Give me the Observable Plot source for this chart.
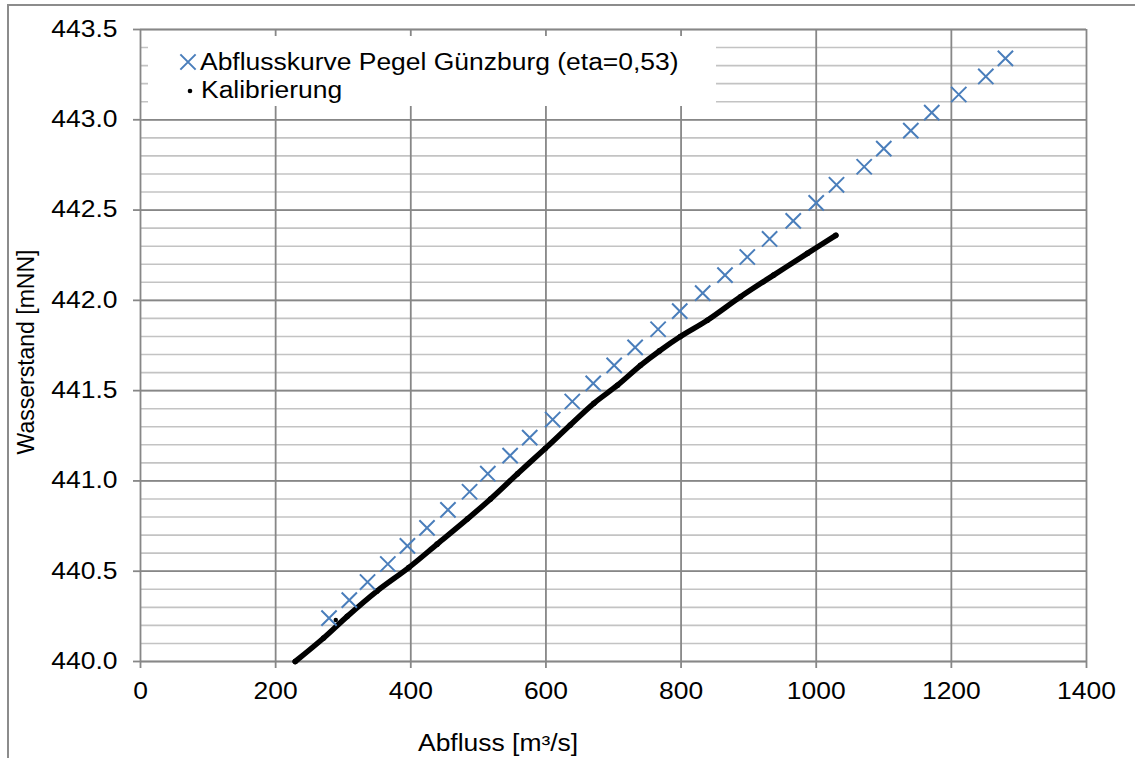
<!DOCTYPE html>
<html>
<head>
<meta charset="utf-8">
<script src="https://cdn.jsdelivr.net/npm/d3@7"></script>
<script src="https://cdn.jsdelivr.net/npm/@observablehq/plot@0.6"></script>
<style>
  html, body { margin: 0; padding: 0; background: #fff; overflow: hidden; }
  #wrap { position: relative; width: 1135px; height: 758px; }
  #border { position: absolute; left: 7px; top: 4px; width: 1400px; height: 1000px;
            border: 2px solid #8c8c8c; pointer-events: none; box-sizing: border-box; }
  svg text { font-family: "Liberation Sans", Arial, sans-serif; }
</style>
</head>
<body>
<div id="wrap"><div id="border"></div></div>
<script>
// Axis ticks
const xTicks = [0, 200, 400, 600, 800, 1000, 1200, 1400];
const yTicks = [440.0, 440.5, 441.0, 441.5, 442.0, 442.5, 443.0, 443.5];

// Abflusskurve Pegel Günzburg (eta=0,53) — blue crosses
const kurveQ = [279, 309, 336, 366, 395, 424, 455, 487, 514, 547, 576, 610, 639, 670, 701, 732,
                766, 798, 832, 865, 898, 931, 966, 1000, 1030, 1071, 1100, 1140, 1171, 1211, 1251, 1280];
const kurveH = [440.24, 440.34, 440.44, 440.54, 440.64, 440.74, 440.84, 440.94, 441.04, 441.14, 441.24,
                441.34, 441.44, 441.54, 441.64, 441.74, 441.84, 441.94, 442.04, 442.14, 442.24, 442.34,
                442.44, 442.54, 442.64, 442.74, 442.84, 442.94, 443.04, 443.14, 443.24, 443.34];

// Kalibrierung — dense black points
const kalQ = [229, 271, 306, 350, 397, 439, 484, 518, 558, 599, 636, 671, 706, 740, 768,
              799, 839, 888, 937, 987, 1029];
const kalH = [440.00, 440.13, 440.25, 440.39, 440.52, 440.65, 440.79, 440.90, 441.04, 441.18, 441.31,
              441.43, 441.53, 441.64, 441.72, 441.80, 441.89, 442.02, 442.14, 442.26, 442.36];
// isolated Kalibrierung point
const kalExtraQ = [289];
const kalExtraH = [440.23];

const kurve = kurveQ.map((q, i) => ({q, h: kurveH[i]}));
const kal = kalQ.map((q, i) => ({q, h: kalH[i]}));
const kalExtra = kalExtraQ.map((q, i) => ({q, h: kalExtraH[i]}));
const minorY = d3.range(0, 36).map(i => 440 + i * 0.1);

const blue = "#4a7ebb";
const gridMajor = "#878787";
const gridMinor = "#c3c3c3";

const chart = Plot.plot({
  width: 1135,
  height: 758,
  marginLeft: 140,
  marginRight: 49,
  marginTop: 29,
  marginBottom: 97,
  style: {fontFamily: "Liberation Sans, Arial, sans-serif", fontSize: "23px", background: "transparent", color: "#000"},
  x: {domain: [0, 1400], label: null},
  y: {domain: [440, 443.5], label: null},
  marks: [
    Plot.ruleY(minorY, {stroke: gridMinor, strokeWidth: 1.6}),
    Plot.ruleY(yTicks, {stroke: gridMajor, strokeWidth: 1.8}),
    Plot.ruleX(xTicks, {stroke: gridMajor, strokeWidth: 1.8}),
    Plot.axisX({ticks: xTicks, tickFormat: d => String(d), tickSize: 7, tickPadding: 14,
                stroke: gridMajor, strokeWidth: 1.8, fill: "#000", label: null}),
    Plot.axisY({ticks: yTicks, tickFormat: d => d.toFixed(1), tickSize: 7, tickPadding: 16,
                stroke: gridMajor, strokeWidth: 1.8, fill: "#000", label: null}),
    Plot.line(kal, {x: "q", y: "h", stroke: "#000", strokeWidth: 5.5, strokeLinecap: "round", strokeLinejoin: "round", curve: "catmull-rom"}),
    Plot.dot(kal, {x: "q", y: "h", r: 2.8, fill: "#000"}),
    Plot.dot(kalExtra, {x: "q", y: "h", r: 2.2, fill: "#000"}),
    Plot.dot(kurve, {x: "q", y: "h", symbol: "times", r: 7, stroke: blue, strokeWidth: 2})
  ]
});

document.getElementById("wrap").insertBefore(chart, document.getElementById("border"));
chart.style.position = "absolute";
chart.style.left = "0px";
chart.style.top = "0px";

const svg = d3.select(chart);

// Legend box
const lg = svg.append("g").attr("text-anchor", "start");
lg.append("rect").attr("x", 148).attr("y", 36).attr("width", 568).attr("height", 70).attr("fill", "#fff");
lg.append("path")
  .attr("d", d3.symbol(d3.symbolTimes, 154)())
  .attr("transform", "translate(188,62)")
  .attr("fill", "none").attr("stroke", blue).attr("stroke-width", 2);
lg.append("text").attr("x", 200).attr("y", 70).attr("text-anchor", "start")
  .attr("font-size", 23).attr("fill", "#000")
  .text("Abflusskurve Pegel Günzburg (eta=0,53)");
lg.append("circle").attr("cx", 190).attr("cy", 91).attr("r", 2.3).attr("fill", "#000");
lg.append("text").attr("x", 201).attr("y", 98).attr("text-anchor", "start")
  .attr("font-size", 23).attr("fill", "#000")
  .text("Kalibrierung");

// Axis titles
svg.append("text").attr("x", 418).attr("y", 751).attr("text-anchor", "start")
  .attr("font-size", 23).attr("fill", "#000")
  .text("Abfluss [m³/s]");
svg.append("text").attr("class", "nostretch")
  .attr("transform", "translate(34,352) rotate(-90)")
  .attr("text-anchor", "middle").attr("font-size", 23).attr("fill", "#000")
  .text("Wasserstand [mNN]");

// Widen horizontal text to match the reference's proportions
chart.querySelectorAll("text").forEach(t => {
  if (t.classList.contains("nostretch")) return;
  const w = t.getComputedTextLength();
  if (w > 0) {
    t.setAttribute("textLength", (w * 1.15).toFixed(1));
    t.setAttribute("lengthAdjust", "spacingAndGlyphs");
  }
});
</script>
</body>
</html>
